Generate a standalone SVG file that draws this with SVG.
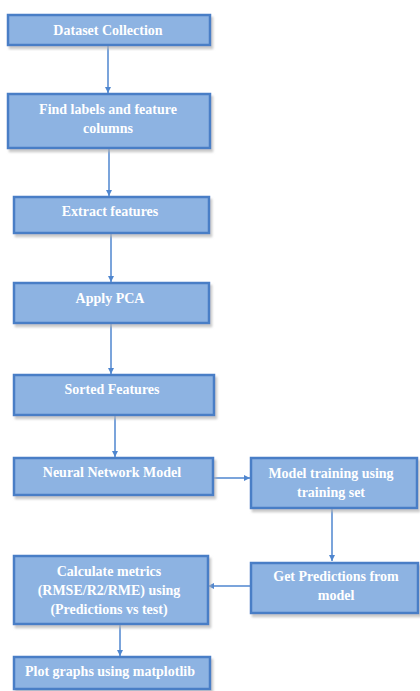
<svg xmlns="http://www.w3.org/2000/svg" width="420" height="691" viewBox="0 0 420 691">
<defs>
<marker id="ah" viewBox="0 0 10 10" refX="10" refY="5" markerWidth="6" markerHeight="6" markerUnits="userSpaceOnUse" orient="auto">
<path d="M0,0 L10,5 L0,10 Z" fill="#4f86cf"/>
</marker>
<filter id="sh" x="-5%" y="-10%" width="115%" height="130%">
<feOffset in="SourceAlpha" dx="2" dy="3" result="o"/>
<feGaussianBlur in="o" stdDeviation="1.2" result="b"/>
<feColorMatrix in="b" type="matrix" values="0 0 0 0 0.45  0 0 0 0 0.45  0 0 0 0 0.45  0 0 0 0.7 0" result="c"/>
<feMerge><feMergeNode in="c"/><feMergeNode in="SourceGraphic"/></feMerge>
</filter>
</defs>
<style>
.box{fill:#8db3e2;stroke:#4a7ec6;stroke-width:2.5;filter:url(#sh)}
.t{font-family:"Liberation Serif","Times New Roman",serif;font-weight:bold;font-size:14px;fill:#ffffff;text-anchor:middle}
.c{stroke:#4f86cf;stroke-width:1.5;fill:none;marker-end:url(#ah)}
</style>
<g id="connectors">
<line class="c" x1="108" y1="45" x2="108" y2="93"/>
<line class="c" x1="109" y1="148" x2="109" y2="196"/>
<line class="c" x1="111" y1="233" x2="111" y2="282"/>
<line class="c" x1="111" y1="323" x2="111" y2="374"/>
<line class="c" x1="115" y1="415" x2="115" y2="457"/>
<line class="c" x1="213" y1="478" x2="250" y2="478"/>
<line class="c" x1="332" y1="508" x2="332" y2="561"/>
<line class="c" x1="250" y1="586" x2="208" y2="586"/>
<line class="c" x1="120" y1="624" x2="120" y2="656"/>
</g>
<g id="n1"><rect class="box" x="8" y="15" width="202" height="30"/><text class="t" x="108" y="35">Dataset Collection</text></g>
<g id="n2"><rect class="box" x="8" y="94" width="202" height="54"/><text class="t" x="108" y="114">Find labels and feature</text><text class="t" x="108" y="133">columns</text></g>
<g id="n3"><rect class="box" x="14" y="197" width="195" height="36"/><text class="t" x="110" y="216">Extract features</text></g>
<g id="n4"><rect class="box" x="14" y="283" width="195" height="40"/><text class="t" x="110" y="303">Apply PCA</text></g>
<g id="n5"><rect class="box" x="14" y="375" width="200" height="40"/><text class="t" x="112" y="394">Sorted Features</text></g>
<g id="n6"><rect class="box" x="14" y="458" width="199" height="37"/><text class="t" x="112" y="477">Neural Network Model</text></g>
<g id="n7"><rect class="box" x="251" y="458" width="166" height="50"/><text class="t" x="331" y="478">Model training using</text><text class="t" x="331" y="497">training set</text></g>
<g id="n8"><rect class="box" x="251" y="563" width="167" height="50"/><text class="t" x="336" y="581">Get Predictions from</text><text class="t" x="336" y="600">model</text></g>
<g id="n9"><rect class="box" x="14" y="556" width="194" height="68"/><text class="t" x="109" y="576">Calculate metrics</text><text class="t" x="109" y="595">(RMSE/R2/RME) using</text><text class="t" x="109" y="614">(Predictions vs test)</text></g>
<g id="n10"><rect class="box" x="14" y="657" width="196" height="32"/><text class="t" x="110" y="676">Plot graphs using matplotlib</text></g>
</svg>
